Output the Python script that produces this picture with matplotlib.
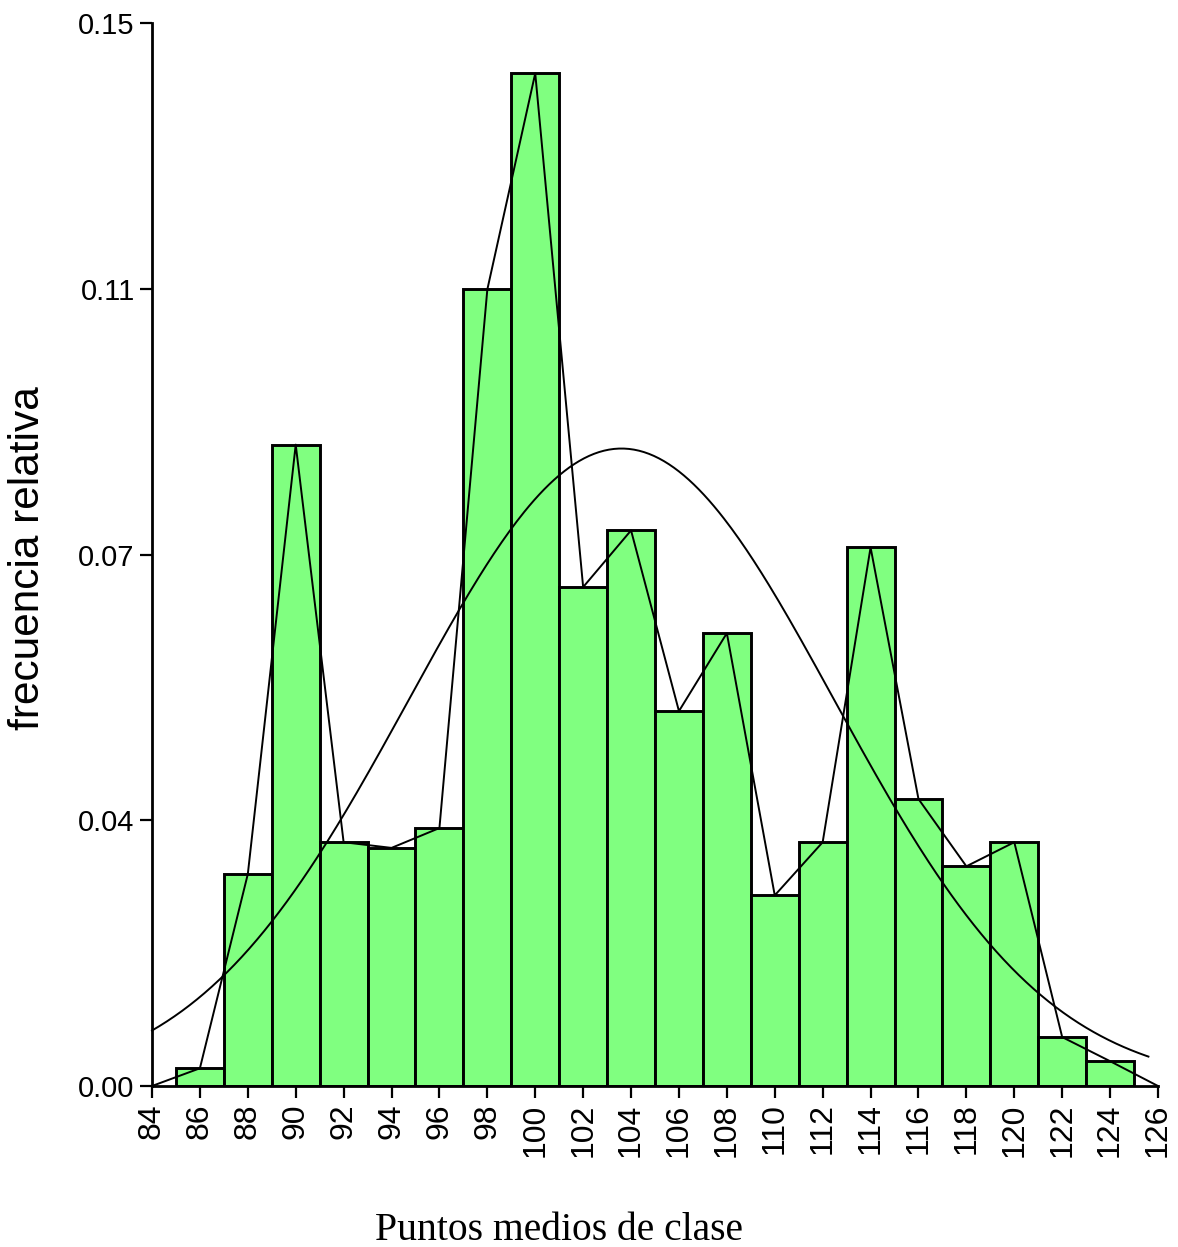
import numpy as np
import matplotlib
matplotlib.use("Agg")
import matplotlib.pyplot as plt

# class midpoints and relative frequencies (bin width 2)
midpoints = [86, 88, 90, 92, 94, 96, 98, 100, 102, 104,
             106, 108, 110, 112, 114, 116, 118, 120, 122, 124]
rel_freq = [0.0025, 0.0299, 0.0905, 0.0344, 0.0336, 0.0364, 0.1124, 0.1429, 0.0704, 0.0784,
            0.0529, 0.0639, 0.0269, 0.0344, 0.0760, 0.0405, 0.0310, 0.0344, 0.0069, 0.0035]
bin_width = 2

# fitted normal curve
normal_mean = 103.6
normal_sd = 8.87
normal_range = (84.0, 125.6)

x_ticks = list(range(84, 127, 2))
y_ticks = [0.0, 0.0375, 0.075, 0.1125, 0.15]
y_tick_labels = ["0.00", "0.04", "0.07", "0.11", "0.15"]

fig = plt.figure(figsize=(11.78, 12.47), dpi=100)
ax = fig.add_axes([152 / 1178, 161 / 1247, 1006 / 1178, 1063 / 1247])

ax.bar(midpoints, rel_freq, width=bin_width, color="#80ff80",
       edgecolor="black", linewidth=2.1, zorder=2)

# frequency polygon, closed at the outer midpoints
poly_x = [midpoints[0] - bin_width] + midpoints + [midpoints[-1] + bin_width]
poly_y = [0.0] + rel_freq + [0.0]
ax.plot(poly_x, poly_y, color="black", linewidth=1.4, zorder=3, clip_on=False)

xs = np.linspace(normal_range[0], normal_range[1], 400)
ys = bin_width * np.exp(-0.5 * ((xs - normal_mean) / normal_sd) ** 2) / (normal_sd * np.sqrt(2 * np.pi))
ax.plot(xs, ys, color="black", linewidth=1.4, zorder=3, clip_on=False)

ax.set_xlim(84, 126)
ax.set_ylim(0, 0.15)
ax.set_xticks(x_ticks)
ax.set_xticklabels([str(t) for t in x_ticks], rotation=90,
                   family=["Liberation Sans", "DejaVu Sans"], fontsize=23)
ax.set_yticks(y_ticks)
ax.set_yticklabels(y_tick_labels, family=["Liberation Sans", "DejaVu Sans"], fontsize=21)

for side in ["top", "right"]:
    ax.spines[side].set_visible(False)
for side in ["left", "bottom"]:
    ax.spines[side].set_linewidth(2.0)
ax.tick_params(axis="both", direction="out", length=8.5, width=1.6, pad=4, color="black")

fig.text(28 / 1178, 1 - 558 / 1247, "frecuencia relativa", rotation=90,
         ha="center", va="center", fontsize=30.5, family=["Liberation Sans", "DejaVu Sans"])
fig.text(559 / 1178, 1 - 1240 / 1247, "Puntos medios de clase", ha="center", va="baseline",
         fontsize=28.5, family=["Liberation Serif", "DejaVu Serif"])

fig.savefig("out.png", dpi=100)
